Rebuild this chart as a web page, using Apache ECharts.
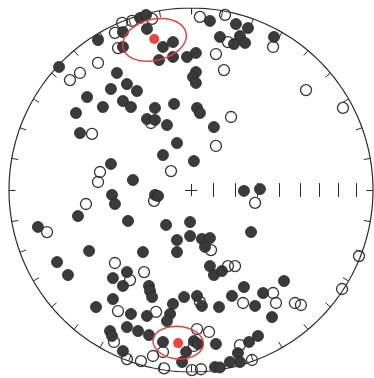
<!DOCTYPE html>
<html>
<head>
<meta charset="utf-8">
<script src="https://cdn.jsdelivr.net/npm/echarts@6/dist/echarts.min.js"></script>
<style>
  html, body { margin: 0; padding: 0; background: #ffffff; }
  #chart { width: 374px; height: 378px; }
</style>
</head>
<body>
<div id="chart"></div>
<script>
// Lower-hemisphere equal-area (Schmidt) net.
// Poles are given in projected east/north units, net radius = 1.
const filledPoles = [
  [-0.280, 0.945], [-0.247, 0.962], [-0.242, 0.885], [-0.374, 0.868], [-0.511, 0.824],
  [-0.374, 0.786], [-0.154, 0.786], [-0.099, 0.813], [-0.176, 0.714], [-0.099, 0.731],
  [-0.022, 0.731], [-0.725, 0.676], [-0.407, 0.643], [-0.352, 0.582], [-0.440, 0.555],
  [-0.297, 0.544], [-0.571, 0.511], [-0.374, 0.489], [-0.484, 0.456], [-0.330, 0.456],
  [-0.198, 0.451], [-0.093, 0.473], [-0.632, 0.423], [-0.242, 0.390], [-0.198, 0.385],
  [-0.132, 0.357], [-0.610, 0.313], [-0.077, 0.258], [-0.154, 0.192], [-0.440, 0.143],
  [-0.319, 0.055], [0.104, 0.929], [0.247, 0.912], [0.313, 0.890], [0.159, 0.841],
  [0.269, 0.846], [0.236, 0.802], [0.297, 0.808], [0.456, 0.841], [0.027, 0.753],
  [0.027, 0.648], [0.011, 0.621], [0.027, 0.588], [0.033, 0.451], [0.049, 0.423],
  [0.126, 0.346], [0.016, 0.159], [0.291, -0.005], [0.379, 0.005], [-0.434, -0.027],
  [-0.418, -0.077], [-0.198, -0.027], [-0.181, -0.033], [-0.621, -0.143], [-0.841, -0.203],
  [-0.346, -0.170], [-0.137, -0.192], [-0.077, -0.275], [-0.077, -0.341], [-0.005, -0.176],
  [-0.005, -0.253], [-0.560, -0.335], [-0.264, -0.341], [-0.736, -0.396], [-0.676, -0.467],
  [-0.352, -0.451], [-0.429, -0.484], [-0.374, -0.527], [-0.231, -0.527], [-0.225, -0.555],
  [-0.214, -0.588], [-0.429, -0.599], [-0.522, -0.643], [-0.330, -0.681], [-0.242, -0.692],
  [-0.099, -0.626], [-0.115, -0.681], [-0.132, -0.720], [-0.038, -0.588], [-0.445, -0.775],
  [-0.434, -0.802], [-0.352, -0.753], [-0.291, -0.775], [-0.231, -0.797], [-0.154, -0.835],
  [-0.027, -0.890], [-0.374, -0.885], [-0.049, -0.945], [0.330, -0.231], [0.060, -0.269],
  [0.104, -0.264], [0.077, -0.313], [0.104, -0.418], [0.126, -0.467], [0.170, -0.445],
  [0.511, -0.500], [0.291, -0.533], [0.225, -0.582], [0.396, -0.566], [0.352, -0.637],
  [0.445, -0.698], [0.033, -0.582], [0.060, -0.637], [0.154, -0.643], [0.016, -0.830],
  [0.038, -0.846], [0.137, -0.846], [0.368, -0.802], [0.319, -0.835], [0.258, -0.896],
  [0.269, -0.945], [0.214, -0.945], [0.132, -0.973], [0.159, -0.975]
];

const openPoles = [
  [-0.379, 0.918], [-0.324, 0.929], [-0.214, 0.940], [-0.418, 0.863], [-0.401, 0.780],
  [-0.511, 0.698], [-0.610, 0.643], [-0.665, 0.604], [-0.220, 0.368], [-0.544, 0.308],
  [-0.110, 0.104], [-0.500, 0.099], [-0.511, 0.044], [0.049, 0.951], [0.187, 0.962],
  [0.203, 0.813], [0.451, 0.786], [0.137, 0.747], [0.181, 0.659], [0.632, 0.549],
  [0.835, 0.451], [0.220, 0.401], [0.137, 0.242], [-0.577, -0.077], [-0.203, -0.060],
  [-0.791, -0.231], [-0.418, -0.401], [-0.335, -0.495], [-0.258, -0.451], [-0.401, -0.665],
  [-0.192, -0.670], [-0.423, -0.835], [-0.154, -0.890], [-0.352, -0.929], [-0.275, -0.940],
  [-0.209, -0.912], [-0.148, -0.980], [0.352, -0.071], [0.110, -0.330], [0.203, -0.418],
  [0.242, -0.418], [0.923, -0.363], [0.830, -0.544], [0.451, -0.566], [0.286, -0.621],
  [0.467, -0.621], [0.571, -0.621], [0.604, -0.632], [0.049, -0.615], [0.033, -0.764],
  [0.099, -0.780], [0.016, -0.857], [0.269, -0.852], [0.335, -0.934], [0.005, -0.990],
  [0.055, -0.985]
];

// Mean poles (trend, plunge in degrees) with their alpha-95 cones (degrees)
const meanTrends = [346.3, 184.8];
const meanPlunges = [15.7, 16.7];
const meanAlpha95 = [11.5, 9];

// Scale marks along the east radius (plunge, degrees) and rim tick spacing (degrees)
const scalePlunges = [80, 70, 60, 50, 40, 30, 20, 10];
const rimTickStep = 10;

const DEG = Math.PI / 180;

// Equal-area projection of a line (trend, plunge) onto the unit net
function project(trend, plunge) {
  const r = Math.SQRT2 * Math.sin((90 - plunge) * DEG / 2);
  return [r * Math.sin(trend * DEG), r * Math.cos(trend * DEG)];
}

// Small circle of angular radius alpha about a mean line
function cone(trend, plunge, alpha) {
  const t = trend * DEG, p = plunge * DEG, a = alpha * DEG;
  const m = [Math.cos(p) * Math.cos(t), Math.cos(p) * Math.sin(t), Math.sin(p)];
  const u = [-Math.sin(p) * Math.cos(t), -Math.sin(p) * Math.sin(t), Math.cos(p)];
  const v = [-Math.sin(t), Math.cos(t), 0];
  const pts = [];
  for (let k = 0; k <= 144; k++) {
    const f = k / 144 * 2 * Math.PI;
    let w = [0, 1, 2].map(i => Math.cos(a) * m[i] + Math.sin(a) * (Math.cos(f) * u[i] + Math.sin(f) * v[i]));
    if (w[2] < 0) w = w.map(c => -c);
    const pl = Math.asin(Math.min(1, w[2])) / DEG;
    const tr = Math.atan2(w[1], w[0]) / DEG;
    pts.push(project(tr, pl));
  }
  return pts;
}

// Primitive circle
const rim = [];
for (let az = 0; az <= 360; az += 2) rim.push(project(az, 0));

// Rim ticks, scale ticks and centre cross
const tickLen = 0.036;
const ticks = [];
for (let az = 0; az < 360; az += rimTickStep) {
  const s = Math.sin(az * DEG), c = Math.cos(az * DEG);
  ticks.push({ coords: [[s, c], [s * (1 - tickLen), c * (1 - tickLen)]] });
}
scalePlunges.forEach(p => {
  const x = project(90, p)[0];
  ticks.push({ coords: [[x, -0.038], [x, 0.038]] });
});
ticks.push({ coords: [[-0.033, 0], [0.033, 0]] });
ticks.push({ coords: [[0, -0.033], [0, 0.033]] });

const cones = meanTrends.map((t, i) => ({ coords: cone(t, meanPlunges[i], meanAlpha95[i]) }));
const means = meanTrends.map((t, i) => project(t, meanPlunges[i]));

const chart = echarts.init(document.getElementById('chart'), null, { renderer: 'canvas' });
chart.setOption({
  animation: false,
  backgroundColor: '#ffffff',
  grid: { left: 9, top: 8, width: 364, height: 364 },
  xAxis: { type: 'value', min: -1, max: 1, show: false },
  yAxis: { type: 'value', min: -1, max: 1, show: false },
  series: [
    {
      type: 'lines', coordinateSystem: 'cartesian2d', polyline: true, silent: true, z: 1,
      data: [{ coords: rim }],
      lineStyle: { color: '#2b2b2b', width: 1.2, opacity: 1 }
    },
    {
      type: 'lines', coordinateSystem: 'cartesian2d', silent: true, z: 1,
      data: ticks,
      lineStyle: { color: '#2b2b2b', width: 1, opacity: 1 }
    },
    {
      type: 'scatter', z: 3, symbol: 'circle', symbolSize: 11,
      data: filledPoles,
      itemStyle: { color: '#3b3b3b', borderColor: '#262626', borderWidth: 0.8, opacity: 1 }
    },
    {
      type: 'scatter', z: 4, symbol: 'circle', symbolSize: 11,
      data: openPoles,
      itemStyle: { color: 'rgba(255,255,255,0)', borderColor: '#333333', borderWidth: 1.3, opacity: 1 }
    },
    {
      type: 'lines', coordinateSystem: 'cartesian2d', polyline: true, silent: true, z: 5,
      data: cones,
      lineStyle: { color: '#e0433f', width: 1.5, opacity: 1 }
    },
    {
      type: 'scatter', z: 6, symbol: 'circle', symbolSize: 10,
      data: means,
      itemStyle: { color: '#e8463e', opacity: 1 }
    }
  ]
});
</script>
</body>
</html>
